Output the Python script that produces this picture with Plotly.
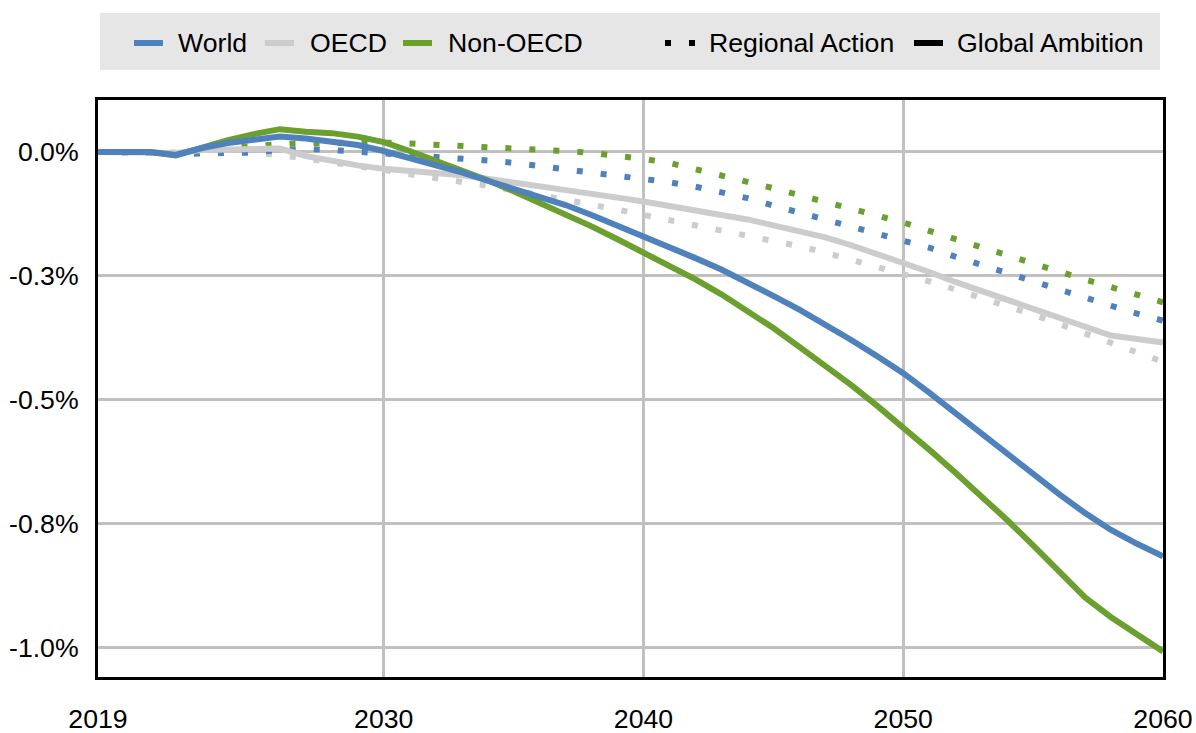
"""Change vs. baseline, 2019-2060: World / OECD / Non-OECD under two scenarios.

Solid = Global Ambition, dotted = Regional Action.
"""
import plotly.graph_objects as go

YEARS = list(range(2019, 2061))

# Global Ambition (solid), % change
WORLD_GA = [0.000, 0.000, 0.000, -0.006, 0.008, 0.018, 0.025, 0.031, 0.027, 0.022,
            0.014, 0.002, -0.012, -0.026, -0.041, -0.058, -0.074, -0.091, -0.107, -0.127,
            -0.148, -0.170, -0.192, -0.214, -0.237, -0.262, -0.290, -0.318, -0.348, -0.379,
            -0.412, -0.446, -0.485, -0.526, -0.569, -0.611, -0.651, -0.690, -0.728, -0.762,
            -0.790, -0.815]
OECD_GA = [0.000, 0.000, 0.000, -0.002, 0.004, 0.006, 0.007, 0.007, -0.008, -0.018,
           -0.027, -0.034, -0.038, -0.042, -0.047, -0.054, -0.061, -0.068, -0.076, -0.084,
           -0.092, -0.100, -0.108, -0.117, -0.127, -0.136, -0.147, -0.159, -0.172, -0.188,
           -0.205, -0.223, -0.242, -0.262, -0.280, -0.299, -0.318, -0.337, -0.355, -0.370,
           -0.377, -0.384]
NONOECD_GA = [0.000, 0.000, 0.000, -0.007, 0.010, 0.024, 0.036, 0.046, 0.041, 0.038,
              0.031, 0.020, 0.002, -0.017, -0.037, -0.057, -0.079, -0.102, -0.125, -0.150,
              -0.176, -0.202, -0.228, -0.257, -0.287, -0.320, -0.355, -0.393, -0.431, -0.470,
              -0.512, -0.555, -0.600, -0.646, -0.693, -0.742, -0.793, -0.845, -0.898, -0.938,
              -0.973, -1.007]

# Regional Action (dotted), % change
WORLD_RA = [0.000, 0.000, 0.000, -0.004, -0.003, -0.002, -0.001, 0.004, 0.006, 0.004,
            0.001, -0.002, -0.005, -0.008, -0.013, -0.017, -0.022, -0.028, -0.034, -0.040,
            -0.046, -0.053, -0.061, -0.070, -0.080, -0.093, -0.108, -0.122, -0.136, -0.150,
            -0.163, -0.177, -0.193, -0.211, -0.228, -0.245, -0.262, -0.278, -0.294, -0.310,
            -0.326, -0.340]
OECD_RA = [0.000, 0.000, 0.000, -0.002, -0.001, -0.001, -0.002, -0.006, -0.013, -0.020,
           -0.028, -0.036, -0.045, -0.052, -0.060, -0.068, -0.077, -0.086, -0.096, -0.106,
           -0.116, -0.127, -0.137, -0.147, -0.157, -0.167, -0.178, -0.190, -0.203, -0.217,
           -0.231, -0.245, -0.261, -0.277, -0.293, -0.310, -0.328, -0.347, -0.366, -0.385,
           -0.405, -0.423]
NONOECD_RA = [0.000, 0.000, 0.000, -0.003, 0.004, 0.009, 0.013, 0.016, 0.018, 0.019,
              0.020, 0.019, 0.017, 0.015, 0.013, 0.011, 0.008, 0.005, 0.002, -0.002,
              -0.007, -0.014, -0.022, -0.034, -0.046, -0.059, -0.073, -0.087, -0.100, -0.114,
              -0.128, -0.142, -0.159, -0.176, -0.192, -0.208, -0.224, -0.241, -0.257, -0.273,
              -0.289, -0.303]

X_TICKS = [2019, 2030, 2040, 2050, 2060]
Y_TICKS = [0.0, -0.25, -0.5, -0.75, -1.0]
Y_TICK_TEXT = ["0.0%", "-0.3%", "-0.5%", "-0.8%", "-1.0%"]

BLUE, GREY, GREEN = "#4F81BD", "#CCCCCC", "#6B9F2E"
FONT = "Liberation Sans, Arial, sans-serif"
FS = 26.67
DOT = "6px,18px"

W, H = 1196, 733
ML, MR, MT, MB = 98, 33, 100, 56
PW, PH = W - ML - MR, H - MT - MB


def px(x):   # page pixel -> paper x
    return (x - ML) / PW


def py(y):   # page pixel -> paper y
    return (H - MB - y) / PH


fig = go.Figure()
for vals, col in [(OECD_RA, GREY), (WORLD_RA, BLUE), (NONOECD_RA, GREEN)]:
    fig.add_trace(go.Scatter(x=YEARS, y=vals, mode="lines", showlegend=False,
                             line=dict(color=col, width=6, dash=DOT)))
for vals, col in [(OECD_GA, GREY), (NONOECD_GA, GREEN), (WORLD_GA, BLUE)]:
    fig.add_trace(go.Scatter(x=YEARS, y=vals, mode="lines", showlegend=False,
                             line=dict(color=col, width=6)))

# hand-built legend strip across the top
shapes = [dict(type="rect", xref="paper", yref="paper", x0=px(100), x1=px(1160),
               y0=py(70), y1=py(13), fillcolor="#E6E6E6", line_width=0, layer="below")]
annots = []
legend_items = [("World", BLUE, None, 134, 163, 176),
                ("OECD", GREY, None, 265, 294, 308),
                ("Non-OECD", GREEN, None, 403, 432, 446),
                ("Regional Action", "black", DOT, 665, 697, 707),
                ("Global Ambition", "black", None, 914, 943, 955)]
for label, col, dash, x0, x1, xt in legend_items:
    shapes.append(dict(type="line", xref="paper", yref="paper", x0=px(x0), x1=px(x1),
                       y0=py(43), y1=py(43), line=dict(color=col, width=6, dash=dash)))
    annots.append(dict(text=label, xref="paper", yref="paper", x=px(xt), y=py(43),
                       xanchor="left", yanchor="middle", showarrow=False,
                       font=dict(size=FS, color="black", family=FONT)))

fig.update_layout(
    width=W, height=H, margin=dict(l=ML, r=MR, t=MT, b=MB, autoexpand=False),
    paper_bgcolor="white", plot_bgcolor="white",
    font=dict(family=FONT, size=FS, color="black"),
    shapes=shapes, annotations=annots, showlegend=False,
)
fig.update_xaxes(range=[2019, 2060], tickvals=X_TICKS, ticktext=[str(t) for t in X_TICKS],
                 showgrid=True, gridcolor="#C0C0C0", gridwidth=3,
                 showline=True, linecolor="black", linewidth=3, mirror=True,
                 ticks="", ticklabelstandoff=16, zeroline=False, automargin=False)
fig.update_yaxes(range=[-1.0585, 0.1048], tickvals=Y_TICKS, ticktext=Y_TICK_TEXT,
                 showgrid=True, gridcolor="#C0C0C0", gridwidth=3,
                 showline=True, linecolor="black", linewidth=3, mirror=True,
                 ticks="", ticklabelstandoff=11, zeroline=False, automargin=False)

fig.write_html("out.html", config={"displayModeBar": False},
               post_script="document.body.style.margin='0';")
